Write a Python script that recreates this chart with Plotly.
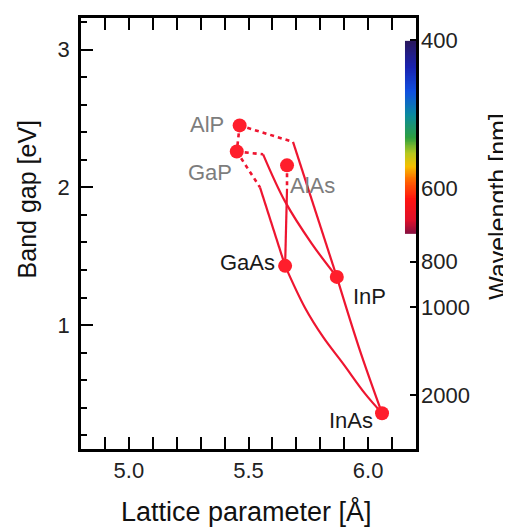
import numpy as np
import plotly.graph_objects as go

# ---------------- data ----------------
compounds = ["AlP", "GaP", "AlAs", "GaAs", "InP", "InAs"]
lattice = [5.463, 5.451, 5.661, 5.653, 5.869, 6.058]      # Å
bandgap = [2.45, 2.26, 2.16, 1.43, 1.35, 0.36]            # eV
is_direct = [False, False, False, True, True, True]

# indirect-gap alloy segments (dotted)
algap_ind_x = [5.463, 5.451]
algap_ind_y = [2.45, 2.26]
alinp_ind_x = [5.463, 5.686]
alinp_ind_y = [2.45, 2.33]
gainp_ind_x = [5.451, 5.561]
gainp_ind_y = [2.26, 2.24]
gaasp_ind_x = [5.451, 5.548]
gaasp_ind_y = [2.26, 2.00]
algaas_ind_x = [5.661, 5.661]
algaas_ind_y = [2.16, 1.99]

# direct-gap alloy segments (solid)
alinp_dir_x = [5.686, 5.869]
alinp_dir_y = [2.33, 1.35]
gainp_dir_x = [5.561, 5.652, 5.765, 5.869]
gainp_dir_y = [2.24, 1.90, 1.59, 1.35]
gaasp_dir_x = [5.548, 5.653]
gaasp_dir_y = [2.00, 1.43]
algaas_dir_x = [5.661, 5.653]
algaas_dir_y = [1.99, 1.43]
gainas_dir_x = [5.653, 5.736, 5.813, 5.896, 5.987, 6.058]
gainas_dir_y = [1.43, 1.126, 0.91, 0.718, 0.502, 0.36]
inasp_dir_x = [5.869, 5.962, 6.058]
inasp_dir_y = [1.35, 0.835, 0.36]

# wavelength axis (right)
wl_tick_text = ["400", "600", "800", "1000", "2000"]
wl_tick_gap = [3.07, 1.99, 1.46, 1.13, 0.49]

# spectrum bar extent (band gap values)
spec_gap_low = 1.665
spec_gap_high = 3.064
spec_lat_left = 6.154
spec_lat_right = 6.2

x_tick_vals = [5.0, 5.5, 6.0]
x_tick_text = ["5.0", "5.5", "6.0"]
y_tick_vals = [1, 2, 3]
y_tick_text = ["1", "2", "3"]

# ---------------- style ----------------
RED = "#ee1530"
MRED = "#ff1e2c"
FONT = "Liberation Sans, Arial, sans-serif"
GRAY = "#7d7d7d"
BLACK = "#1a1a1a"

fig = go.Figure()

dotted = [(algap_ind_x, algap_ind_y), (alinp_ind_x, alinp_ind_y),
          (gainp_ind_x, gainp_ind_y), (gaasp_ind_x, gaasp_ind_y),
          (algaas_ind_x, algaas_ind_y)]
for xs, ys in dotted:
    fig.add_trace(go.Scatter(x=xs, y=ys, mode="lines",
                             line=dict(color=RED, width=2.6, dash="4px,4px"),
                             hoverinfo="skip", showlegend=False))

solid = [(alinp_dir_x, alinp_dir_y, "linear"), (gainp_dir_x, gainp_dir_y, "spline"),
         (gaasp_dir_x, gaasp_dir_y, "linear"), (algaas_dir_x, algaas_dir_y, "linear"),
         (gainas_dir_x, gainas_dir_y, "spline"), (inasp_dir_x, inasp_dir_y, "spline")]
for xs, ys, shp in solid:
    fig.add_trace(go.Scatter(x=xs, y=ys, mode="lines",
                             line=dict(color=RED, width=2.2, shape=shp),
                             hoverinfo="skip", showlegend=False))

fig.add_trace(go.Scatter(x=lattice, y=bandgap, mode="markers",
                         marker=dict(color=MRED, size=14),
                         text=compounds, showlegend=False))

# spectrum colour bar drawn as a heatmap inside the plot
n = 120
y_edges = np.linspace(spec_gap_low, spec_gap_high, n + 1)
zcol = [[v] for v in np.linspace(0, 1, n)]
spectrum = [
    [0.0, "#8a1040"], [0.07, "#e0102a"], [0.18, "#ff1410"], [0.28, "#ff6a00"],
    [0.35, "#f6c000"], [0.42, "#b4c820"], [0.50, "#2ea040"], [0.62, "#0a8aa0"],
    [0.74, "#1050e0"], [0.87, "#1a22b0"], [1.0, "#2a1860"],
]
fig.add_trace(go.Heatmap(x=[spec_lat_left, spec_lat_right], y=y_edges, z=zcol,
                         colorscale=spectrum, showscale=False, zsmooth="best",
                         hoverinfo="skip", yaxis="y2"))

# labels
label_style = {
    "AlP": dict(xanchor="right", xshift=-14, yshift=1, color=GRAY),
    "GaP": dict(xanchor="right", xshift=-3, yshift=-21, color=GRAY),
    "AlAs": dict(xanchor="left", xshift=1, yshift=-20, color=GRAY),
    "GaAs": dict(xanchor="right", xshift=-8, yshift=3, color=BLACK),
    "InP": dict(xanchor="left", xshift=14, yshift=-20, color=BLACK),
    "InAs": dict(xanchor="right", xshift=-7, yshift=-7, color=BLACK),
}
for name, lx, ly in zip(compounds, lattice, bandgap):
    st = label_style[name]
    fig.add_annotation(x=lx, y=ly, xref="x", yref="y", text=name, showarrow=False,
                       xanchor=st["xanchor"], yanchor="middle",
                       xshift=st["xshift"], yshift=st["yshift"],
                       font=dict(family=FONT, size=22, color=st["color"]))

# axis titles
fig.add_annotation(x=0.4955, y=-0.145, xref="paper", yref="paper",
                   text="Lattice parameter [Å]", showarrow=False,
                   xanchor="center", yanchor="middle",
                   font=dict(family=FONT, size=27, color="#111"))
fig.add_annotation(x=-0.16, y=0.58, xref="paper", yref="paper",
                   text="Band gap [eV]", showarrow=False, textangle=-90,
                   xanchor="center", yanchor="middle",
                   font=dict(family=FONT, size=25, color="#111"))
fig.add_annotation(x=1.245, y=0.562, xref="paper", yref="paper",
                   text="Wavelength [nm]", showarrow=False, textangle=-90,
                   xanchor="center", yanchor="middle",
                   font=dict(family=FONT, size=25, color="#111"))

yr = [0.1, 3.23]
# page body has an 8px margin: shrink the figure and margins to compensate
fig.update_layout(
    width=503, height=520,
    margin=dict(l=73, r=95, t=7, b=79),
    paper_bgcolor="white", plot_bgcolor="white",
    showlegend=False,
    xaxis=dict(range=[4.8, 6.2], tickvals=x_tick_vals, ticktext=x_tick_text,
               ticks="inside", ticklen=12, tickwidth=2, tickcolor="black",
               showline=True, linewidth=2.5, linecolor="black", mirror="allticks",
               showgrid=False, zeroline=False,
               tickfont=dict(family=FONT, size=22, color="#222"),
               minor=dict(dtick=0.1, tick0=4.8, ticks="inside", ticklen=6,
                          tickwidth=2, tickcolor="black", showgrid=False)),
    yaxis=dict(range=yr, tickvals=y_tick_vals, ticktext=y_tick_text,
               ticks="inside", ticklen=12, tickwidth=2, tickcolor="black",
               showline=True, linewidth=2.5, linecolor="black", mirror=True,
               showgrid=False, zeroline=False, ticklabelstandoff=4,
               tickfont=dict(family=FONT, size=22, color="#222"),
               minor=dict(dtick=0.2, tick0=0, ticks="inside", ticklen=6,
                          tickwidth=2, tickcolor="black", showgrid=False)),
    yaxis2=dict(range=yr, overlaying="y", side="right",
                tickvals=wl_tick_gap, ticktext=wl_tick_text,
                ticks="inside", ticklen=6, tickwidth=2, tickcolor="black",
                showline=False, showgrid=False, zeroline=False,
                ticklabelstandoff=4, layer="below traces",
                tickfont=dict(family=FONT, size=22, color="#222")),
)

fig.write_html("out.html")
